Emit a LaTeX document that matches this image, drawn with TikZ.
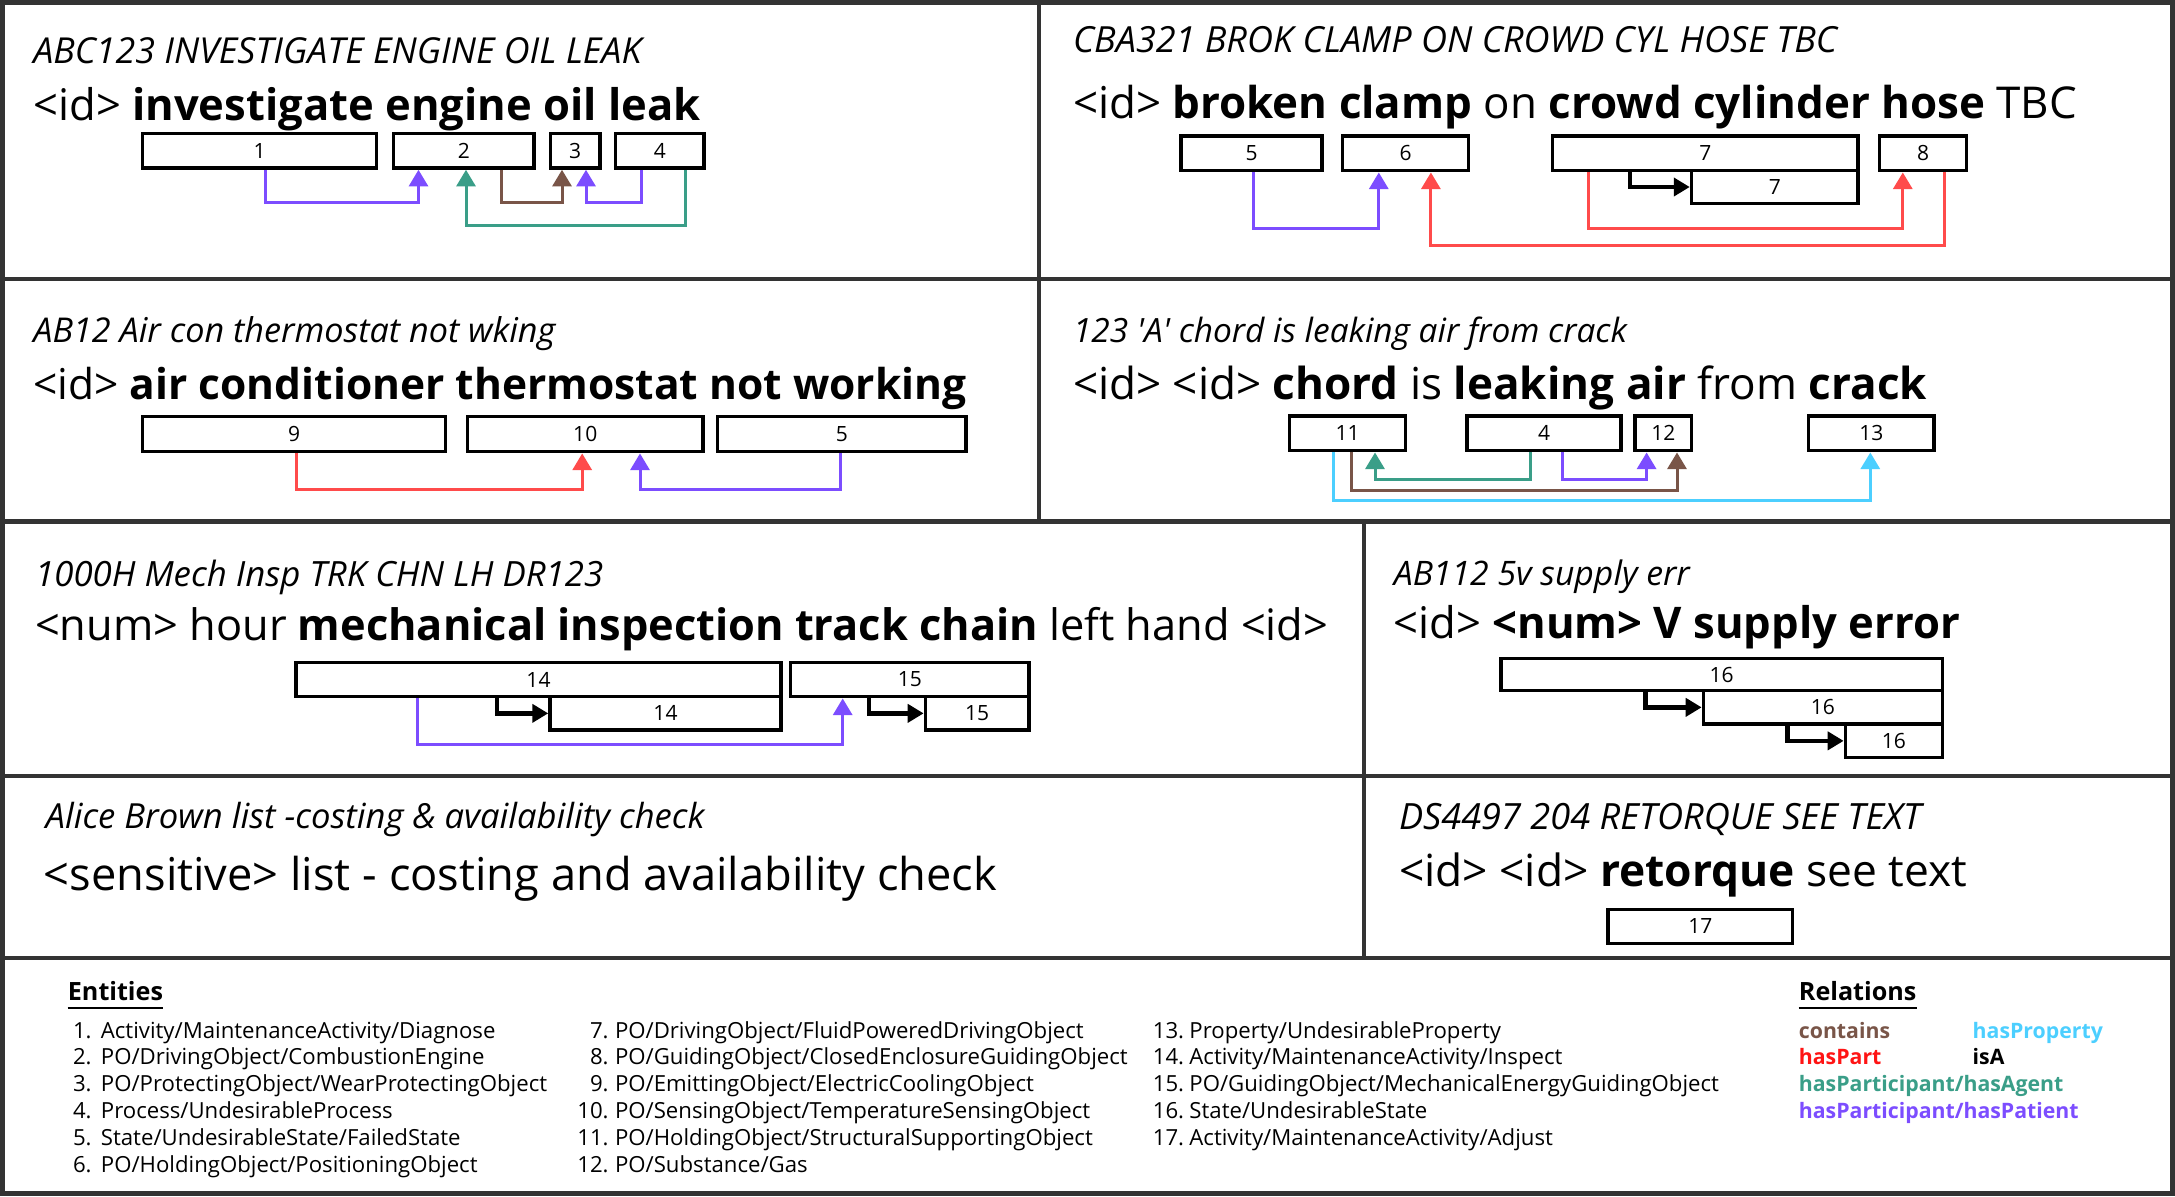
\documentclass[tikz,border=0pt]{standalone}
\usepackage{fontspec}
\setmainfont{Open Sans}
\usetikzlibrary{arrows.meta}
\definecolor{cbrown}{HTML}{795548}
\definecolor{ccyan}{HTML}{4CCFFF}
\definecolor{cred}{HTML}{FF4B4B}
\definecolor{credtxt}{HTML}{FF1414}
\definecolor{cteal}{HTML}{3A9E88}
\definecolor{cpurple}{HTML}{7C4DFF}
\definecolor{cborder}{HTML}{333333}
\tikzset{
  x=0.5pt, y=-0.5pt,
  ebox/.style={draw=black, line width=1.75pt, fill=white, inner sep=0pt,
    font=\fontsize{10.5}{12}\selectfont},
  relarrow/.style={line width=1.5pt, line join=miter,
    -{Triangle[width=9.5pt,length=8.3pt]}},
  patient/.style={relarrow, draw=cpurple},
  agent/.style={relarrow, draw=cteal},
  haspart/.style={relarrow, draw=cred},
  contains/.style={relarrow, draw=cbrown},
  hasprop/.style={relarrow, draw=ccyan},
  isarrow/.style={line width=2.2pt, draw=black, line join=miter,
    -{Triangle[width=9pt,length=8pt]}},
  fitted/.style={anchor=base west, inner sep=0pt},
  legtxt/.style={anchor=base west, inner sep=0pt, font=\fontsize{\legfs}{13}\selectfont},
  legnum/.style={anchor=base east, inner sep=0pt, font=\fontsize{\legfs}{13}\selectfont},
  leghead/.style={anchor=base west, inner sep=0pt, font=\fontsize{\hdfs}{14}\selectfont\bfseries},
  reltxt/.style={anchor=base west, inner sep=0pt, font=\fontsize{\relfs}{13}\selectfont\bfseries},
  panel/.style={draw=cborder, line width=2.3pt},
}
\makeatletter
% font size (pt) so that text #4 in font #2 is #3 px wide
\newcommand\calcfit[4]{%
  \setbox0=\hbox{\fontsize{20}{24}\selectfont#2#4}%
  \edef\fit@w{\strip@pt\wd0}%
  \pgfmathsetmacro#1{10*#3/\fit@w}}
\makeatother
% fitted text node: name, x, y, font cmds, width px, text
\newcommand\fitnode[6]{\node[fitted] (#1) at (#2,#3)
  {\calcfit\fs{#4}{#5}{#6}\fontsize{\fs}{\fs}\selectfont#4#6};}
% box: name, x1, y1, x2, y2, label
\newcommand\ebox[6]{\node[ebox, minimum width={0.5pt*(#4-#2)}, minimum height={0.5pt*(#5-#3)}]
  (#1) at ({(#2+#4)/2},{(#3+#5)/2}) {#6};}
% connector: style, source, xs, target, xt, level
\newcommand\conn[6]{\draw[#1] (#2.south -| #3,0) -- (#3,#6) -- (#5,#6) -- (#4.south -| #5,0);}
% isA connector: source, xs, target
\newcommand\isaconn[3]{\draw[isarrow] (#1.south -| #2,0) |- (#3.west);}
\begin{document}
\calcfit\legfs{}{529.5}{PO/GuidingObject/MechanicalEnergyGuidingObject}%
\calcfit\relfs{\bfseries}{279.8}{hasParticipant/hasPatient}%
\calcfit\hdfs{\bfseries}{117.5}{Relations}%
\begin{tikzpicture}
\useasboundingbox (0,0) rectangle (2175,1196);
\fill[white] (0,0) rectangle (2175,1196);
% panel frame
\draw[panel] (2.3,2.3) rectangle (2172.7,1193.7);
\draw[panel] (0,279) -- (2175,279);
\draw[panel] (0,521.5) -- (2175,521.5);
\draw[panel] (0,776) -- (2175,776);
\draw[panel] (0,958) -- (2175,958);
\draw[panel] (1039,0) -- (1039,521.5);
\draw[panel] (1364,521.5) -- (1364,958);

% ---------- Panel 1
\fitnode{t1}{33}{63.3}{\itshape}{608}{ABC123 INVESTIGATE ENGINE OIL LEAK}
\fitnode{m1}{33}{120}{}{667}{<id> \textbf{investigate engine oil leak}}
\ebox{b1}{142.6}{133.5}{376.7}{168}{1}
\ebox{b2}{393.5}{133.5}{534}{168}{2}
\ebox{b3}{550.4}{133.5}{600}{168}{3}
\ebox{b4}{615.4}{133.5}{704.2}{168}{4}
\conn{patient}{b1}{265}{b2}{418.5}{202}
\conn{contains}{b2}{501.2}{b3}{562}{202}
\conn{patient}{b4}{641.5}{b3}{586}{202}
\conn{agent}{b4}{685.5}{b2}{466}{225}

% ---------- Panel 2
\fitnode{t2}{1072.6}{52.7}{\itshape}{764}{CBA321 BROK CLAMP ON CROWD CYL HOSE TBC}
\fitnode{m2}{1072.6}{118.3}{}{1004}{<id> \textbf{broken clamp} on \textbf{crowd cylinder hose} TBC}
\ebox{c5}{1181}{136}{1322}{170.7}{5}
\ebox{c6}{1342.6}{136}{1468.5}{170.7}{6}
\ebox{c7a}{1552.5}{136}{1858}{170.7}{7}
\ebox{c7b}{1691.5}{170.7}{1858}{203.3}{7}
\ebox{c8}{1879.7}{136}{1966.5}{170.7}{8}
\isaconn{c7a}{1630}{c7b}
\conn{patient}{c5}{1253.5}{c6}{1378.8}{228.3}
\conn{haspart}{c7a}{1588.7}{c8}{1902.8}{228.3}
\conn{haspart}{c8}{1944.8}{c6}{1430.9}{245}

% ---------- Panel 3
\fitnode{t3}{33}{342.7}{\itshape}{522}{AB12 Air con thermostat not wking}
\fitnode{m3}{33}{399}{}{933}{<id> \textbf{air conditioner thermostat not working}}
\ebox{d9}{142.6}{416.7}{445.6}{451.7}{9}
\ebox{d10}{467.5}{416.7}{703}{451.7}{10}
\ebox{d5}{717.5}{416.7}{966}{451.7}{5}
\conn{haspart}{d9}{296.4}{d10}{582.2}{489.3}
\conn{patient}{d5}{840.2}{d10}{640}{489.3}

% ---------- Panel 4
\fitnode{t4}{1072.6}{342.7}{\itshape}{554}{123 \textquotesingle A\textquotesingle{} chord is leaking air from crack}
\fitnode{m4}{1072.6}{399}{}{854}{<id> <id> \textbf{chord} is \textbf{leaking air} from \textbf{crack}}
\ebox{e11}{1289.7}{416}{1405.5}{450.7}{11}
\ebox{e4}{1467}{416}{1621}{450.7}{4}
\ebox{e12}{1635}{416}{1691.5}{450.7}{12}
\ebox{e13}{1808.7}{416}{1934}{450.7}{13}
\conn{agent}{e4}{1530.8}{e11}{1375}{479.3}
\conn{patient}{e4}{1562.6}{e12}{1646.6}{479.3}
\conn{contains}{e11}{1351.3}{e12}{1677}{490}
\conn{hasprop}{e11}{1333.2}{e13}{1870.3}{500.7}

% ---------- Panel 5
\fitnode{t5}{34.8}{586}{\itshape}{568}{1000H Mech Insp TRK CHN LH DR123}
\fitnode{m5}{34.8}{640}{}{1293}{<num> hour \textbf{mechanical inspection track chain} left hand <id>}
\ebox{f14a}{296}{662.3}{781}{696.7}{14}
\ebox{f15a}{790.5}{662.3}{1029}{696.7}{15}
\ebox{f14b}{550}{696.7}{781}{730}{14}
\ebox{f15b}{925.4}{696.7}{1029}{730}{15}
\isaconn{f14a}{497}{f14b}
\isaconn{f15a}{869}{f15b}
\conn{patient}{f14a}{417.9}{f15a}{842.7}{744.3}

% ---------- Panel 6
\fitnode{t6}{1393.4}{585}{\itshape}{296}{AB112 5v supply err}
\fitnode{m6}{1393.4}{638.3}{}{566}{<id> \textbf{<num> V supply error}}
\ebox{g16a}{1500.9}{658.3}{1942.5}{690.7}{16}
\ebox{g16b}{1703.4}{690.7}{1942.5}{724}{16}
\ebox{g16c}{1845.4}{724}{1942.5}{757.7}{16}
\isaconn{g16a}{1645.5}{g16b}
\isaconn{g16b}{1787.6}{g16c}

% ---------- Panel 7
\fitnode{t7}{45.3}{828.3}{\itshape}{659}{Alice Brown list -costing \& availability check}
\fitnode{m7}{43.5}{890}{}{953}{<sensitive> list - costing and availability check}

% ---------- Panel 8
\fitnode{t8}{1398.6}{829.3}{\itshape}{522}{DS4497 204 RETORQUE SEE TEXT}
\fitnode{m8}{1398.6}{886.7}{}{568}{<id> <id> \textbf{retorque} see text}
\ebox{h17}{1607.8}{909.3}{1792.7}{943.3}{17}

% ---------- Legend
\node[leghead] (ent) at (67.5,1000.7) {Entities};
\draw[line width=1.1pt] ([yshift=-3.6pt]ent.base west) -- ([yshift=-3.6pt]ent.base east);
\node[legnum] (n1) at (92,1038) {1.};   \node[legtxt] (l1) at (100.5,1038) {Activity/MaintenanceActivity/Diagnose};
\node[legnum] (n2) at (92,1064.9) {2.}; \node[legtxt] (l2) at (100.5,1064.9) {PO/DrivingObject/CombustionEngine};
\node[legnum] (n3) at (92,1091.8) {3.}; \node[legtxt] (l3) at (100.5,1091.8) {PO/ProtectingObject/WearProtectingObject};
\node[legnum] (n4) at (92,1118.7) {4.}; \node[legtxt] (l4) at (100.5,1118.7) {Process/UndesirableProcess};
\node[legnum] (n5) at (92,1145.6) {5.}; \node[legtxt] (l5) at (100.5,1145.6) {State/UndesirableState/FailedState};
\node[legnum] (n6) at (92,1172.5) {6.}; \node[legtxt] (l6) at (100.5,1172.5) {PO/HoldingObject/PositioningObject};
\node[legnum] (n7) at (609,1038) {7.};    \node[legtxt] (l7) at (614.6,1038) {PO/DrivingObject/FluidPoweredDrivingObject};
\node[legnum] (n8) at (609,1064.9) {8.};  \node[legtxt] (l8) at (614.6,1064.9) {PO/GuidingObject/ClosedEnclosureGuidingObject};
\node[legnum] (n9) at (609,1091.8) {9.};  \node[legtxt] (l9) at (614.6,1091.8) {PO/EmittingObject/ElectricCoolingObject};
\node[legnum] (n10) at (609,1118.7) {10.}; \node[legtxt] (l10) at (614.6,1118.7) {PO/SensingObject/TemperatureSensingObject};
\node[legnum] (n11) at (609,1145.6) {11.}; \node[legtxt] (l11) at (614.6,1145.6) {PO/HoldingObject/StructuralSupportingObject};
\node[legnum] (n12) at (609,1172.5) {12.}; \node[legtxt] (l12) at (614.6,1172.5) {PO/Substance/Gas};
\node[legnum] (n13) at (1184.5,1038) {13.};   \node[legtxt] (l13) at (1189,1038) {Property/UndesirableProperty};
\node[legnum] (n14) at (1184.5,1064.9) {14.}; \node[legtxt] (l14) at (1189,1064.9) {Activity/MaintenanceActivity/Inspect};
\node[legnum] (n15) at (1184.5,1091.8) {15.}; \node[legtxt] (l15) at (1189,1091.8) {PO/GuidingObject/MechanicalEnergyGuidingObject};
\node[legnum] (n16) at (1184.5,1118.7) {16.}; \node[legtxt] (l16) at (1189,1118.7) {State/UndesirableState};
\node[legnum] (n17) at (1184.5,1145.6) {17.}; \node[legtxt] (l17) at (1189,1145.6) {Activity/MaintenanceActivity/Adjust};

\node[leghead] (relh) at (1798.5,1000.7) {Relations};
\draw[line width=1.1pt] ([yshift=-3.8pt]relh.base west) -- ([yshift=-3.8pt]relh.base east);
\node[reltxt, text=cbrown] (r1) at (1798.5,1038) {contains};
\node[reltxt, text=ccyan] (r2) at (1972.3,1038) {hasProperty};
\node[reltxt, text=credtxt] (r3) at (1798.5,1064.9) {hasPart};
\node[reltxt, text=black] (r4) at (1972.3,1064.9) {isA};
\node[reltxt, text=cteal] (r5) at (1798.5,1091.8) {hasParticipant/hasAgent};
\node[reltxt, text=cpurple] (r6) at (1798.5,1118.7) {hasParticipant/hasPatient};
\end{tikzpicture}
\end{document}
